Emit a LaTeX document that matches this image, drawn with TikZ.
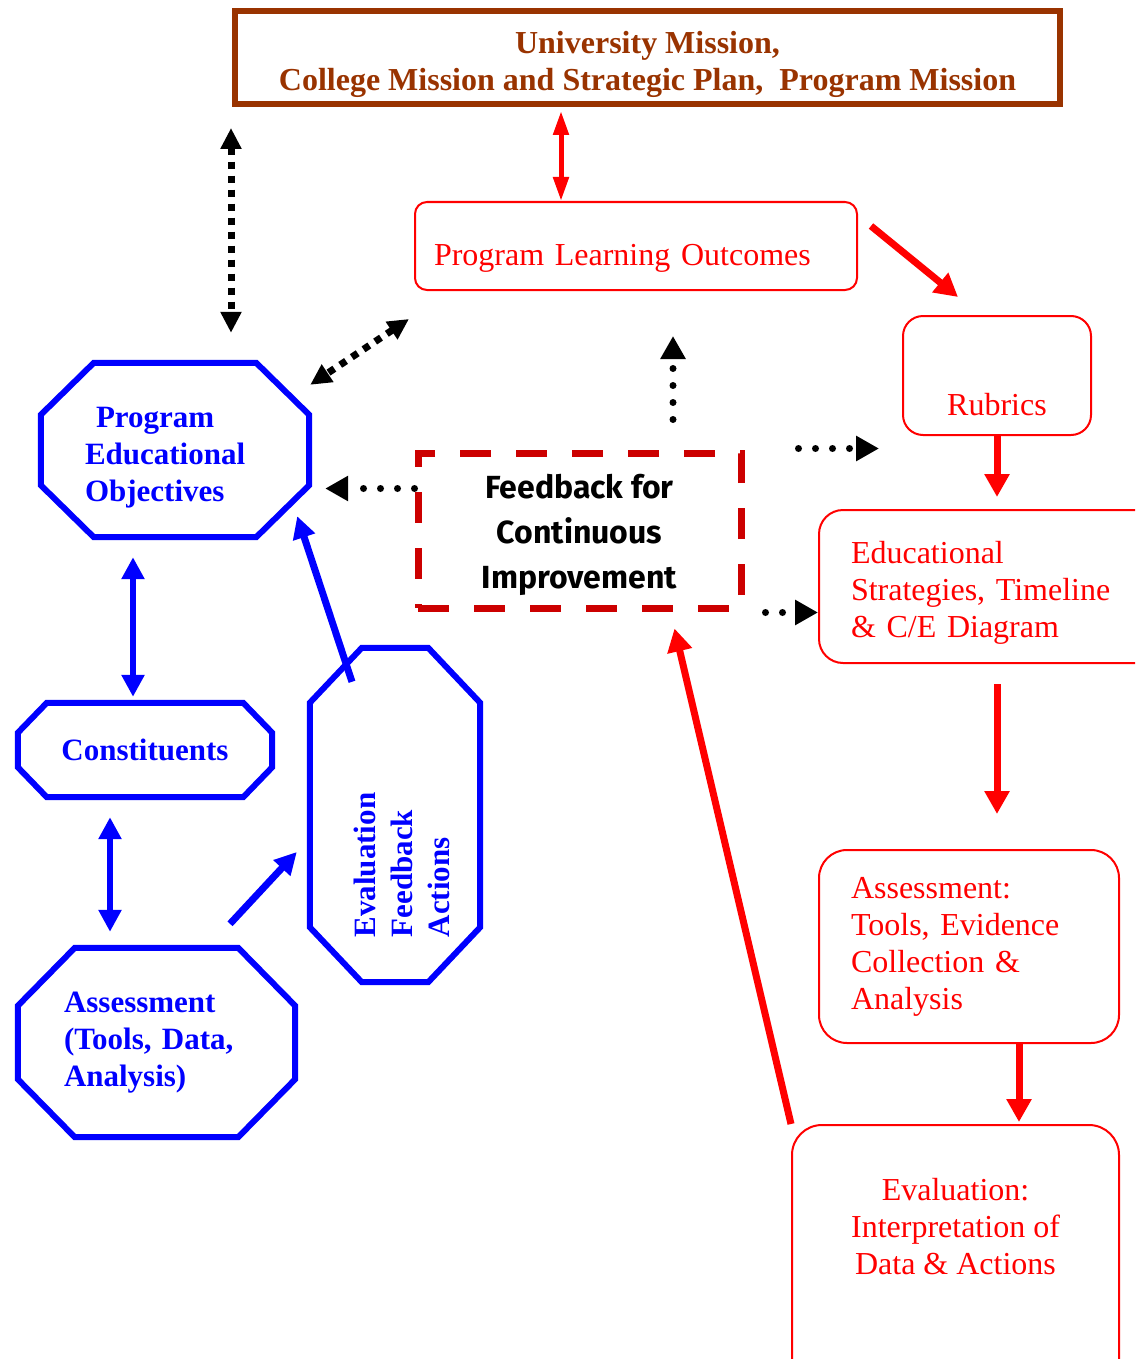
\documentclass[tikz,border=0pt]{standalone}
\usepackage{fontspec}
\setmainfont{Liberation Serif}
\newfontfamily\fbfont{Fira Sans}
\usepackage{graphicx}
\usetikzlibrary{arrows.meta, calc, positioning}
\definecolor{bluecol}{HTML}{0000FF}
\definecolor{redcol}{HTML}{FF0000}
\definecolor{dashred}{HTML}{CC0000}
\definecolor{missbrown}{HTML}{993300}
\newcommand{\octa}[3]{%
  \draw[octline] ([xshift=#2]#1.north west) -- ([xshift=-#2]#1.north east)
    -- ([yshift=-#3]#1.north east) -- ([yshift=#3]#1.south east)
    -- ([xshift=-#2]#1.south east) -- ([xshift=#2]#1.south west)
    -- ([yshift=#3]#1.south west) -- ([yshift=-#3]#1.north west) -- cycle;}

\begin{document}
\frenchspacing
\begin{tikzpicture}[x=1pt, y=-1pt,
    missbox/.style={draw=missbrown, line width=6pt, minimum width=825pt,
                    minimum height=93pt, text=missbrown, align=center,
                    font=\fontsize{32pt}{37pt}\selectfont\bfseries},
    redbox/.style={draw=redcol, line width=2pt, text=redcol,
                   font=\fontsize{32pt}{37pt}\selectfont},
    octnode/.style={text=bluecol, inner sep=0pt,
                    font=\fontsize{31pt}{37pt}\selectfont\bfseries},
    octline/.style={draw=bluecol, line width=6pt},
    fbbox/.style={draw=dashred, line width=7pt, dash pattern=on 31pt off 25pt,
                  minimum width=323pt, minimum height=155pt, align=center,
                  font=\fbfont\bfseries\fontsize{32pt}{45pt}\selectfont},
    redarr/.style={draw=redcol, line width=7pt, -{Triangle[length=23pt,width=24pt]}},
    reddbl/.style={draw=redcol, line width=5pt,
                   {Triangle[length=24pt,width=15pt]}-{Triangle[length=24pt,width=15pt]}},
    bluearr/.style={draw=bluecol, line width=7pt, -{Triangle[length=22pt,width=22pt]}},
    bluedbl/.style={draw=bluecol, line width=6pt,
                    {Triangle[length=22pt,width=22pt]}-{Triangle[length=22pt,width=22pt]}},
    dotarr/.style={draw=black, line width=7pt, line cap=round,
                   dash pattern=on 0pt off 17pt, -{Triangle[length=23pt,width=24pt]}},
    bigdots/.style={draw=black, line width=7pt, dash pattern=on 7pt off 7pt,
                    {Triangle[length=21pt,width=20pt]}-{Triangle[length=21pt,width=20pt]}}
  ]
  \useasboundingbox (0,0) rectangle (1135,1359);
  \clip (0,0) rectangle (1135,1359);

  \node[missbox] (mission) at (647.5,57.5)
    {\rule{0pt}{36pt}University Mission,\\College Mission and Strategic Plan,~ Program Mission};
  \node[redbox, rounded corners=12pt, minimum width=442pt, minimum height=88pt,
        text width=404pt, inner xsep=19pt, align=left, text height=38pt,
        text depth=0pt] (plo) at (636,246) {Program Learning Outcomes};
  \node[redbox, rounded corners=20pt, minimum width=188pt, minimum height=119pt,
        text height=79pt, text depth=0pt] (rubrics) at (997,375.5) {Rubrics};
  \node[redbox, rounded corners=24pt, minimum width=354pt, minimum height=153pt,
        text width=290pt, inner xsep=32pt, align=left] (edu) at (996,586.5)
    {\rule{0pt}{34pt}Educational\\Strategies, Timeline\\\& C/E Diagram};
  \node[redbox, rounded corners=28pt, minimum width=300pt, minimum height=193pt,
        text width=236pt, inner xsep=32pt, align=left] (assessR) at (969,946.5)
    {Assessment:\\Tools, Evidence\\Collection \&\\Analysis};
  \node[redbox, rounded corners=30pt, minimum width=327pt, minimum height=275pt,
        align=center] (evalR) at (955.5,1262.5)
    {Evaluation:\\Interpretation of\\Data \& Actions\\[36pt]\mbox{}};
  \node[fbbox] (feedback) at (579.5,530.5)
    {\rule{0pt}{33pt}Feedback for\\Continuous\\Improvement};

  \node[octnode, minimum width=268pt, minimum height=174pt, text width=180pt,
        align=left] (peo) at (175,450)
    {\hspace*{11pt}\rule{0pt}{36pt}Program\\Educational\\Objectives};
  \octa{peo}{53pt}{52pt}
  \node[octnode, minimum width=254pt, minimum height=94pt] (const) at (145,750)
    {Constituents};
  \octa{const}{29pt}{30pt}
  \node[octnode, minimum width=277pt, minimum height=189pt, text width=185pt,
        align=left] (assessB) at (156.5,1042.5)
    {Assessment\\(Tools, Data,\\Analysis)};
  \octa{assessB}{57pt}{58pt}
  \node[octnode, minimum width=170pt, minimum height=334pt] (efa) at (395,815)
    {\rotatebox{90}{\begin{tabular}{@{}l@{\hspace{100pt}}}
      \rule{0pt}{46pt}Evaluation\\Feedback\\Actions\end{tabular}}};
  \octa{efa}{52pt}{55pt}

  \draw[reddbl, shorten <=4pt] ([xshift=-86.5pt]mission.south) -- ([xshift=-75pt]plo.north);
  \draw[redarr] ([shift={(13pt,20pt)}]plo.east) -- ([shift={(-39pt,18pt)}]rubrics.north);
  \draw[redarr, shorten >=12pt] (rubrics.south) -- (rubrics.south |- edu.north);
  \draw[redarr, shorten <=20pt, shorten >=35pt] ([xshift=1pt]edu.south)
    -- ([xshift=1pt]edu.south |- assessR.north);
  \draw[redarr, shorten >=2pt] ([xshift=50pt]assessR.south)
    -- ([xshift=50pt]assessR.south |- evalR.north);
  \draw[redarr] (evalR.north west) -- ([shift={(95pt,-17pt)}]feedback.south);

  \draw[bigdots, shorten <=21pt, shorten >=30pt] ([xshift=-1pt]mission.south west)
    -- ([xshift=-1pt]mission.south west |- peo.north);
  \draw[bigdots] ([shift={(-5pt,-28pt)}]plo.south west) -- ([shift={(1pt,-22pt)}]peo.north east);
  \draw[dotarr, shorten >=16pt] ([yshift=42pt]feedback.west) -- ([yshift=42pt]feedback.west -| peo.east);
  \draw[dotarr, shorten <=54pt, shorten >=23pt] ([yshift=1pt]feedback.north east)
    -- ([yshift=1pt]feedback.north east -| rubrics.west);
  \draw[dotarr, shorten <=21pt] ([yshift=-1pt]feedback.south east)
    -- ([yshift=-1pt]feedback.south east -| edu.west);
  \draw[dotarr, shorten <=30pt, shorten >=45pt] ([xshift=93.5pt]feedback.north)
    -- ([xshift=93.5pt]feedback.north |- plo.south);

  \draw[bluedbl, shorten <=20pt, shorten >=6pt] ([xshift=-42pt]peo.south)
    -- ([xshift=-42pt]peo.south |- const.north);
  \draw[bluedbl, shorten <=20pt, shorten >=16pt] ([xshift=-35pt]const.south)
    -- ([xshift=-35pt]const.south |- assessB.north);
  \draw[bluearr] ([shift={(73.5pt,24pt)}]assessB.north) -- ([shift={(-13pt,-37pt)}]efa.west);
  \draw[bluearr] ([shift={(-43pt,-34pt)}]efa.north) -- ([shift={(-12pt,21pt)}]peo.south east);
\end{tikzpicture}
\end{document}
